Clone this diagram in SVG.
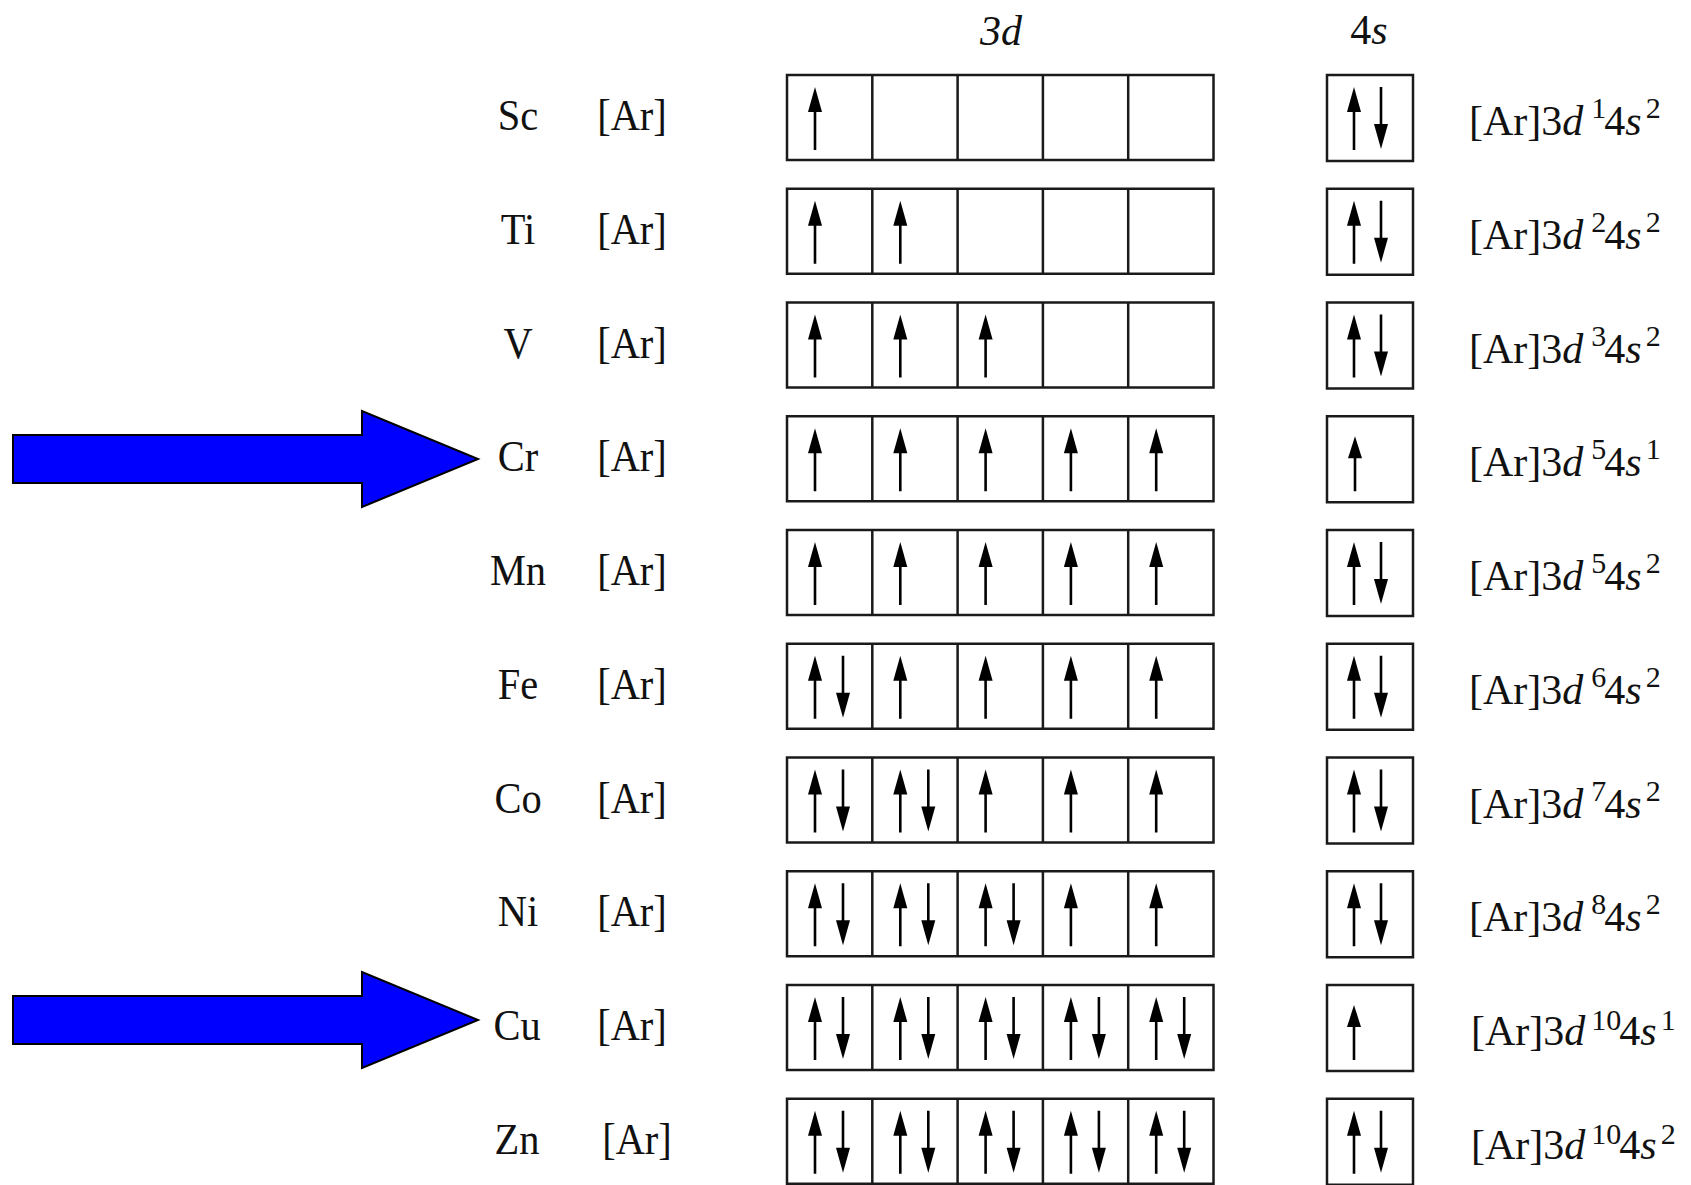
<svg xmlns="http://www.w3.org/2000/svg" width="1691" height="1185" viewBox="0 0 1691 1185">
<style>
.bg{fill:#ffffff}
.box{fill:none;stroke:#1a1a1a;stroke-width:2.5}
.sl{stroke:#000;stroke-width:2.6}
.hd{fill:#000}
.t{font-family:"Liberation Serif","Times New Roman",serif;font-size:44px;fill:#111}
.el{text-anchor:middle}
.fm{font-family:"Liberation Serif","Times New Roman",serif;font-size:42px;fill:#111}
.it{font-style:italic}
.sup{font-size:30px}
.hdr{font-family:"Liberation Serif","Times New Roman",serif;font-size:42px;fill:#111;text-anchor:middle}
.blue{fill:#0000ff;stroke:#000;stroke-width:2}
</style>
<defs>
<g id="d3">
<rect class="box" x="787" y="0" width="426.5" height="85"/>
<line class="box" x1="872.3" y1="0" x2="872.3" y2="85"/>
<line class="box" x1="957.6" y1="0" x2="957.6" y2="85"/>
<line class="box" x1="1042.9" y1="0" x2="1042.9" y2="85"/>
<line class="box" x1="1128.2" y1="0" x2="1128.2" y2="85"/>
</g>
<rect id="s4" class="box" x="1327" y="0" width="86" height="86"/>
<g id="up"><line class="sl" x1="0" y1="20" x2="0" y2="75"/><polygon class="hd" points="0,12 -7,37 7,37"/></g>
<g id="dn"><line class="sl" x1="0" y1="12" x2="0" y2="67"/><polygon class="hd" points="0,74 -7,49 7,49"/></g>
<g id="up1"><line class="sl" x1="0" y1="28" x2="0" y2="75"/><polygon class="hd" points="0,20 -7,42 7,42"/></g>
</defs>
<rect class="bg" x="0" y="0" width="1691" height="1185"/>

<g id="headers">
<text class="hdr it" x="1001" y="45">3d</text>
<text class="hdr" x="1369" y="44">4<tspan class="it">s</tspan></text>
</g>

<g id="row-sc" transform="translate(0,75)">
<text class="t el" transform="translate(518,55) scale(0.92,1)">Sc</text>
<text class="t el" transform="translate(632,55) scale(0.92,1)">[Ar]</text>
<use href="#d3"/><use href="#s4"/>
<use href="#up" x="815"/>
<use href="#up" x="1354"/><use href="#dn" x="1381"/>
<text class="fm" x="1469" y="60">[Ar]3<tspan class="it">d</tspan><tspan class="sup" dx="8" dy="-17">1</tspan><tspan dx="-2" dy="17">4</tspan><tspan class="it">s</tspan><tspan class="sup" dx="4" dy="-17">2</tspan></text>
</g>

<g id="row-ti" transform="translate(0,188.75)">
<text class="t el" transform="translate(518,55) scale(0.92,1)">Ti</text>
<text class="t el" transform="translate(632,55) scale(0.92,1)">[Ar]</text>
<use href="#d3"/><use href="#s4"/>
<use href="#up" x="815"/><use href="#up" x="900.3"/>
<use href="#up" x="1354"/><use href="#dn" x="1381"/>
<text class="fm" x="1469" y="60">[Ar]3<tspan class="it">d</tspan><tspan class="sup" dx="8" dy="-17">2</tspan><tspan dx="-2" dy="17">4</tspan><tspan class="it">s</tspan><tspan class="sup" dx="4" dy="-17">2</tspan></text>
</g>

<g id="row-v" transform="translate(0,302.5)">
<text class="t el" transform="translate(518,55) scale(0.92,1)">V</text>
<text class="t el" transform="translate(632,55) scale(0.92,1)">[Ar]</text>
<use href="#d3"/><use href="#s4"/>
<use href="#up" x="815"/><use href="#up" x="900.3"/><use href="#up" x="985.6"/>
<use href="#up" x="1354"/><use href="#dn" x="1381"/>
<text class="fm" x="1469" y="60">[Ar]3<tspan class="it">d</tspan><tspan class="sup" dx="8" dy="-17">3</tspan><tspan dx="-2" dy="17">4</tspan><tspan class="it">s</tspan><tspan class="sup" dx="4" dy="-17">2</tspan></text>
</g>

<g id="row-cr" transform="translate(0,416.25)">
<text class="t el" transform="translate(518,55) scale(0.92,1)">Cr</text>
<text class="t el" transform="translate(632,55) scale(0.92,1)">[Ar]</text>
<use href="#d3"/><use href="#s4"/>
<use href="#up" x="815"/><use href="#up" x="900.3"/><use href="#up" x="985.6"/><use href="#up" x="1070.9"/><use href="#up" x="1156.2"/>
<use href="#up1" x="1355"/>
<text class="fm" x="1469" y="60">[Ar]3<tspan class="it">d</tspan><tspan class="sup" dx="8" dy="-17">5</tspan><tspan dx="-2" dy="17">4</tspan><tspan class="it">s</tspan><tspan class="sup" dx="4" dy="-17">1</tspan></text>
</g>

<g id="row-mn" transform="translate(0,530)">
<text class="t el" transform="translate(518,55) scale(0.92,1)">Mn</text>
<text class="t el" transform="translate(632,55) scale(0.92,1)">[Ar]</text>
<use href="#d3"/><use href="#s4"/>
<use href="#up" x="815"/><use href="#up" x="900.3"/><use href="#up" x="985.6"/><use href="#up" x="1070.9"/><use href="#up" x="1156.2"/>
<use href="#up" x="1354"/><use href="#dn" x="1381"/>
<text class="fm" x="1469" y="60">[Ar]3<tspan class="it">d</tspan><tspan class="sup" dx="8" dy="-17">5</tspan><tspan dx="-2" dy="17">4</tspan><tspan class="it">s</tspan><tspan class="sup" dx="4" dy="-17">2</tspan></text>
</g>

<g id="row-fe" transform="translate(0,643.75)">
<text class="t el" transform="translate(518,55) scale(0.92,1)">Fe</text>
<text class="t el" transform="translate(632,55) scale(0.92,1)">[Ar]</text>
<use href="#d3"/><use href="#s4"/>
<use href="#up" x="815"/><use href="#dn" x="843"/><use href="#up" x="900.3"/><use href="#up" x="985.6"/><use href="#up" x="1070.9"/><use href="#up" x="1156.2"/>
<use href="#up" x="1354"/><use href="#dn" x="1381"/>
<text class="fm" x="1469" y="60">[Ar]3<tspan class="it">d</tspan><tspan class="sup" dx="8" dy="-17">6</tspan><tspan dx="-2" dy="17">4</tspan><tspan class="it">s</tspan><tspan class="sup" dx="4" dy="-17">2</tspan></text>
</g>

<g id="row-co" transform="translate(0,757.5)">
<text class="t el" transform="translate(518,55) scale(0.92,1)">Co</text>
<text class="t el" transform="translate(632,55) scale(0.92,1)">[Ar]</text>
<use href="#d3"/><use href="#s4"/>
<use href="#up" x="815"/><use href="#dn" x="843"/><use href="#up" x="900.3"/><use href="#dn" x="928.3"/><use href="#up" x="985.6"/><use href="#up" x="1070.9"/><use href="#up" x="1156.2"/>
<use href="#up" x="1354"/><use href="#dn" x="1381"/>
<text class="fm" x="1469" y="60">[Ar]3<tspan class="it">d</tspan><tspan class="sup" dx="8" dy="-17">7</tspan><tspan dx="-2" dy="17">4</tspan><tspan class="it">s</tspan><tspan class="sup" dx="4" dy="-17">2</tspan></text>
</g>

<g id="row-ni" transform="translate(0,871.25)">
<text class="t el" transform="translate(518,55) scale(0.92,1)">Ni</text>
<text class="t el" transform="translate(632,55) scale(0.92,1)">[Ar]</text>
<use href="#d3"/><use href="#s4"/>
<use href="#up" x="815"/><use href="#dn" x="843"/><use href="#up" x="900.3"/><use href="#dn" x="928.3"/><use href="#up" x="985.6"/><use href="#dn" x="1013.6"/><use href="#up" x="1070.9"/><use href="#up" x="1156.2"/>
<use href="#up" x="1354"/><use href="#dn" x="1381"/>
<text class="fm" x="1469" y="60">[Ar]3<tspan class="it">d</tspan><tspan class="sup" dx="8" dy="-17">8</tspan><tspan dx="-2" dy="17">4</tspan><tspan class="it">s</tspan><tspan class="sup" dx="4" dy="-17">2</tspan></text>
</g>

<g id="row-cu" transform="translate(0,985)">
<text class="t el" transform="translate(517,55) scale(0.92,1)">Cu</text>
<text class="t el" transform="translate(632,55) scale(0.92,1)">[Ar]</text>
<use href="#d3"/><use href="#s4"/>
<use href="#up" x="815"/><use href="#dn" x="843"/><use href="#up" x="900.3"/><use href="#dn" x="928.3"/><use href="#up" x="985.6"/><use href="#dn" x="1013.6"/><use href="#up" x="1070.9"/><use href="#dn" x="1098.9"/><use href="#up" x="1156.2"/><use href="#dn" x="1184.2"/>
<use href="#up1" x="1354"/>
<text class="fm" x="1471" y="60">[Ar]3<tspan class="it">d</tspan><tspan class="sup" dx="6" dy="-15">10</tspan><tspan dx="-2" dy="15">4</tspan><tspan class="it">s</tspan><tspan class="sup" dx="4" dy="-15">1</tspan></text>
</g>

<g id="row-zn" transform="translate(0,1098.75)">
<text class="t el" transform="translate(517,55) scale(0.92,1)">Zn</text>
<text class="t el" transform="translate(637,55) scale(0.92,1)">[Ar]</text>
<use href="#d3"/><use href="#s4"/>
<use href="#up" x="815"/><use href="#dn" x="843"/><use href="#up" x="900.3"/><use href="#dn" x="928.3"/><use href="#up" x="985.6"/><use href="#dn" x="1013.6"/><use href="#up" x="1070.9"/><use href="#dn" x="1098.9"/><use href="#up" x="1156.2"/><use href="#dn" x="1184.2"/>
<use href="#up" x="1354"/><use href="#dn" x="1381"/>
<text class="fm" x="1471" y="60">[Ar]3<tspan class="it">d</tspan><tspan class="sup" dx="6" dy="-15">10</tspan><tspan dx="-2" dy="15">4</tspan><tspan class="it">s</tspan><tspan class="sup" dx="4" dy="-15">2</tspan></text>
</g>

<g id="pointers">
<polygon id="arrow-cr" class="blue" points="13,435 362,435 362,411 478,459 362,507 362,483 13,483"/>
<polygon id="arrow-cu" class="blue" points="13,996 362,996 362,972 478,1020 362,1068 362,1044 13,1044"/>
</g>
</svg>
